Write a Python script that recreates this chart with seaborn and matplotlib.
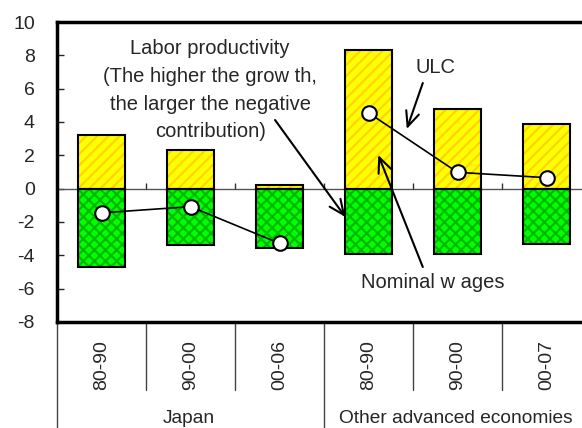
import matplotlib
matplotlib.use("Agg")
import matplotlib.pyplot as plt
import matplotlib.transforms as mtransforms
import seaborn as sns
import numpy as np
import pandas as pd

# contributions to unit labour cost growth (%)
groups = ["Japan", "Japan", "Japan",
          "Other advanced economies", "Other advanced economies", "Other advanced economies"]
periods = ["80-90", "90-00", "00-06", "80-90", "90-00", "00-07"]
nominal_wages = [3.2, 2.3, 0.22, 8.35, 4.8, 3.9]
labor_productivity = [-4.7, -3.4, -3.55, -3.9, -3.9, -3.3]
ulc = [-1.45, -1.08, -3.28, 4.55, 0.98, 0.66]

YELLOW = "#ffff00"
STRIPE = "#ffd400"
GREEN = "#00ff00"
CROSS = "#00b800"

sns.set_style("white")
plt.rcParams["font.family"] = ["Liberation Sans", "DejaVu Sans"]
plt.rcParams["hatch.linewidth"] = 1.6
plt.rcParams["axes.unicode_minus"] = False

df = pd.DataFrame({"group": groups, "period": periods,
                   "wages": nominal_wages, "prod": labor_productivity, "ulc": ulc})
df["key"] = df["group"] + " " + df["period"]
df["pos"] = np.arange(len(df))
order = list(df["key"])

fig = plt.figure(figsize=(5.82, 4.28), dpi=100)
ax = fig.add_axes([57 / 582, 106 / 428, 534 / 582, 300 / 428])

# hatched fills
sns.barplot(data=df, x="key", y="wages", order=order, color=YELLOW, saturation=1,
            width=0.53, edgecolor=STRIPE, linewidth=0, hatch="///", ax=ax, zorder=2)
sns.barplot(data=df, x="key", y="prod", order=order, color=GREEN, saturation=1,
            width=0.53, edgecolor=CROSS, linewidth=0, hatch="xxx", ax=ax, zorder=2)
# black outlines on top
sns.barplot(data=df, x="key", y="wages", order=order, color="black", fill=False,
            width=0.53, linewidth=1.5, ax=ax, zorder=3)
sns.barplot(data=df, x="key", y="prod", order=order, color="black", fill=False,
            width=0.53, linewidth=1.5, ax=ax, zorder=3)

# ULC line, one segment per group
sns.lineplot(data=df, x="pos", y="ulc", units="group", estimator=None, color="black",
             linewidth=1.2, marker="o", markersize=10.5, markerfacecolor="white",
             markeredgecolor="black", markeredgewidth=1.5, ax=ax, zorder=5)

ax.set_xlim(-0.5, len(df) - 0.5)
ax.set_ylim(-8, 10)
ax.set_yticks(np.arange(-8, 11, 2))
ax.set_xticks([])
ax.set_xlabel("")
ax.set_ylabel("")
ax.tick_params(axis="y", direction="in", length=5, width=1, labelsize=14, pad=16, left=True)
for s in ["left", "top", "bottom", "right"]:
    ax.spines[s].set_linewidth(2.5)
    ax.spines[s].set_color("black")

# zero line with small boundary ticks
ax.axhline(0, color="#555555", linewidth=1, zorder=1)
bounds = np.arange(len(df) - 1) + 0.5
ax.vlines(bounds, 0, 0.32, color="#333333", linewidth=1, zorder=1)

# category labels below the plot
trans = mtransforms.blended_transform_factory(ax.transData, ax.transAxes)
for i, p in enumerate(periods):
    ax.text(i, -0.143, p, rotation=90, ha="center", va="center", fontsize=14,
            transform=trans)
group_names = list(dict.fromkeys(groups))
for g in group_names:
    idx = df.loc[df["group"] == g, "pos"]
    ax.text(idx.mean() - 0.02, -0.323, g, ha="center", va="center", fontsize=13.8,
            transform=trans, clip_on=False)
for b in bounds:
    is_group_edge = groups[int(b - 0.5)] != groups[int(b + 0.5)]
    ax.plot([b, b], [0, -0.4 if is_group_edge else -0.227], color="#444444",
            linewidth=1, transform=trans, clip_on=False)
ax.plot([-0.5, -0.5], [0, -0.4], color="#444444", linewidth=1, transform=trans,
        clip_on=False)

# annotations
arrow = dict(arrowstyle="->,head_length=0.9,head_width=0.4", color="black", lw=1.5,
             mutation_scale=12, shrinkA=0, shrinkB=0)
ax.text(1.22, 5.9, "Labor productivity\n(The higher the grow th,\nthe larger the negative\ncontribution)",
        ha="center", va="center", multialignment="center", fontsize=14.5, linespacing=1.58)
ax.annotate("", xy=(2.74, -1.7), xytext=(1.95, 4.12), arrowprops=arrow)
ax.text(3.75, 7.3, "ULC", ha="center", va="center", fontsize=14.5)
ax.annotate("", xy=(3.43, 3.58), xytext=(3.61, 6.34), arrowprops=arrow)
ax.text(3.72, -5.66, "Nominal w ages", ha="center", va="center", fontsize=14.5)
ax.annotate("", xy=(3.11, 2.02), xytext=(3.61, -4.7), arrowprops=arrow)

fig.savefig("out.png", dpi=100)
